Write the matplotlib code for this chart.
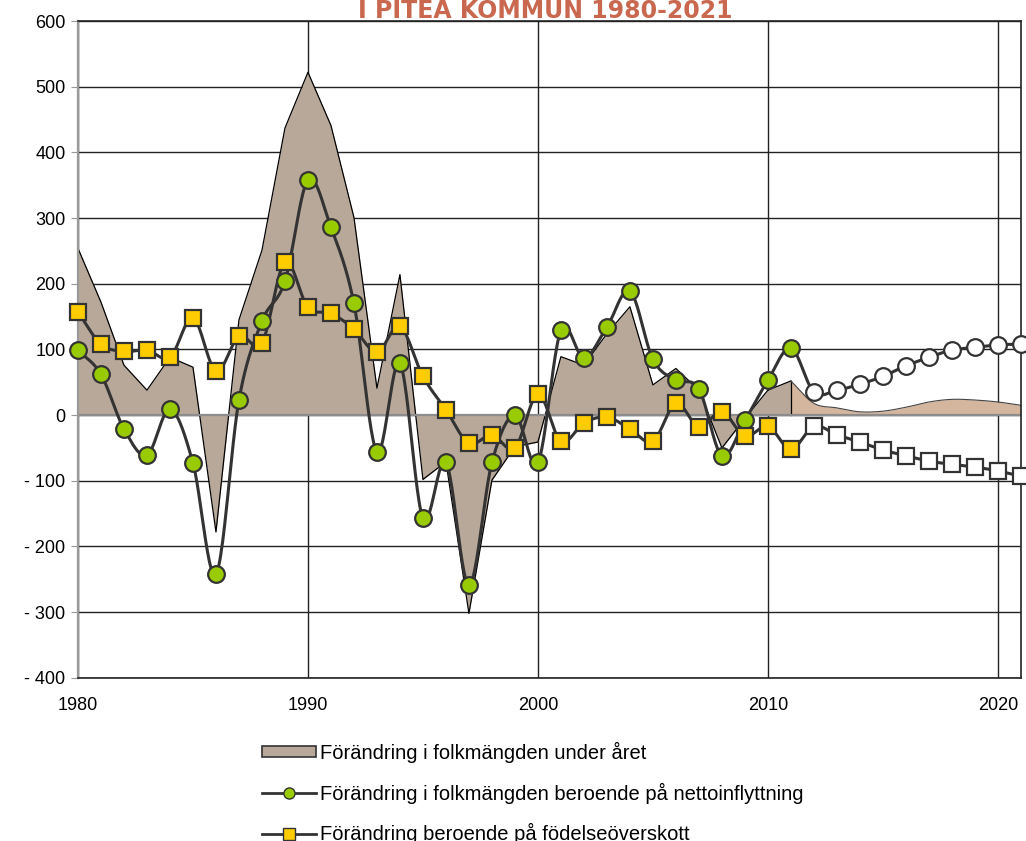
import numpy as np
import matplotlib.pyplot as plt
from matplotlib.patches import Patch
from matplotlib.lines import Line2D

# years: history 1980-2011, forecast 2012-2021
hist_years = list(range(1980, 2012))
proj_years = list(range(2012, 2022))

# total change in population during the year
total_hist = [254, 172, 76, 38, 88, 73, -178, 145, 251, 437, 522, 441, 301, 41, 214, -98,
              -71, -302, -99, -48, -41, 89, 76, 124, 165, 46, 71, 38, -50, -5, 38, 52]
total_proj = [18, 11, 5, 6, 12, 20, 24, 23, 20, 15]

# change from net migration
migration_hist = [99, 62, -21, -61, 9, -73, -242, 23, 143, 204, 358, 286, 170, -56, 79, -157,
                  -72, -259, -72, 0, -72, 129, 87, 134, 189, 85, 53, 40, -62, -8, 53, 102]
migration_proj = [35, 38, 47, 59, 75, 88, 99, 103, 107, 108]

# change from birth surplus
births_hist = [157, 108, 97, 99, 88, 148, 67, 120, 110, 233, 164, 155, 131, 96, 135, 59,
               8, -43, -30, -50, 32, -40, -12, -3, -21, -40, 18, -18, 5, -32, -17, -52]
births_proj = [-17, -30, -41, -53, -62, -70, -75, -79, -85, -93]

yticks = [600, 500, 400, 300, 200, 100, 0, -100, -200, -300, -400]
ytick_labels = ["600", "500", "400", "300", "200", "100", "0", "- 100", "- 200", "- 300", "- 400"]
xticks = [1980, 1990, 2000, 2010, 2020]

labels = ["Förändring i folkmängden under året",
          "Förändring i folkmängden beroende på nettoinflyttning",
          "Förändring beroende på födelseöverskott"]

area_col = "#B8A899"
proj_col = "#D4B59E"
line_col = "#333333"
green = "#99CC00"
yellow = "#FFCC00"


def smooth(x, y, n=24):
    # catmull-rom curve through the points, like excel's smoothed lines
    x = np.asarray(x, float)
    y = np.asarray(y, float)
    px = np.concatenate([[2 * x[0] - x[1]], x, [2 * x[-1] - x[-2]]])
    py = np.concatenate([[2 * y[0] - y[1]], y, [2 * y[-1] - y[-2]]])
    t = np.linspace(0, 1, n, endpoint=False)
    ox, oy = [], []
    for i in range(1, len(px) - 2):
        for p, o in ((px, ox), (py, oy)):
            p0, p1, p2, p3 = p[i - 1], p[i], p[i + 1], p[i + 2]
            o.extend(0.5 * (2 * p1 + (-p0 + p2) * t + (2 * p0 - 5 * p1 + 4 * p2 - p3) * t ** 2
                            + (-p0 + 3 * p1 - 3 * p2 + p3) * t ** 3))
    ox.append(x[-1])
    oy.append(y[-1])
    return np.array(ox), np.array(oy)


plt.rcParams['font.family'] = ['Liberation Sans', 'DejaVu Sans']

fig = plt.figure(figsize=(10.26, 8.41), dpi=100)
ax = fig.add_axes([0.076, 0.194, 0.919, 0.781])

# gridlines behind everything
for yv in yticks:
    ax.axhline(yv, color="#222222", lw=1.0, zorder=0)
for xv in xticks:
    ax.axvline(xv, color="#222222", lw=1.0, zorder=0)

# historical area (straight segments)
ax.fill_between(hist_years, total_hist, 0, color=area_col, lw=0, zorder=1)
ax.plot(hist_years, total_hist, color="black", lw=0.9, zorder=1.2)
ax.plot([2011, 2011], [0, total_hist[-1]], color="black", lw=0.9, zorder=1.2)

# forecast area (smoothed)
sx, sy = smooth([2011] + proj_years, [total_hist[-1]] + total_proj)
ax.fill_between(sx, sy, 0, color=proj_col, lw=0, zorder=1)
ax.plot(sx, sy, color="#444444", lw=0.8, zorder=1.2)

ax.axhline(0, color="#8c8c8c", lw=1.6, zorder=1.5)

# lines
all_years = hist_years + proj_years
mx, my = smooth(all_years, migration_hist + migration_proj)
ax.plot(mx, my, color=line_col, lw=2.2, zorder=3)
bx, by = smooth(all_years, births_hist + births_proj)
ax.plot(bx, by, color=line_col, lw=2.2, zorder=3)

ax.plot(hist_years, migration_hist, "o", ms=12, mfc=green, mec=line_col, mew=1.6, zorder=4, clip_on=False)
ax.plot(proj_years, migration_proj, "o", ms=12, mfc="white", mec=line_col, mew=1.6, zorder=4, clip_on=False)
ax.plot(hist_years, births_hist, "s", ms=11.5, mfc=yellow, mec=line_col, mew=1.6, zorder=4, clip_on=False)
ax.plot(proj_years, births_proj, "s", ms=11.5, mfc="white", mec=line_col, mew=1.6, zorder=4, clip_on=False)

ax.set_xlim(1980, 2021)
ax.set_ylim(-400, 600)
ax.set_yticks(yticks)
ax.set_yticklabels(ytick_labels)
ax.set_xticks(xticks)
ax.set_xticklabels([str(v) for v in xticks])
ax.tick_params(axis="y", length=5, color="#999999", labelsize=13, pad=4)
ax.tick_params(axis="x", length=0, labelsize=13, pad=14)
for s in ["top", "right", "bottom"]:
    ax.spines[s].set_color("#222222")
    ax.spines[s].set_linewidth(1.2)
ax.spines["left"].set_color("#999999")
ax.spines["left"].set_linewidth(1.6)

fig.text(0.531, 0.979, "I PITEÅ KOMMUN 1980-2021", ha="center", va="baseline",
         fontsize=17, fontweight="bold", color="#C9684F",
         family=["Liberation Sans Narrow", "DejaVu Sans"])

handles = [Patch(facecolor=area_col, edgecolor=line_col, lw=1.2),
           Line2D([], [], color=line_col, lw=2, marker="o", ms=8, mfc=green, mec=line_col),
           Line2D([], [], color=line_col, lw=2, marker="s", ms=8, mfc=yellow, mec=line_col)]
fig.legend(handles, labels, loc="upper left", bbox_to_anchor=(0.255, 0.118),
           frameon=False, fontsize=14.5, handlelength=2.7, handleheight=0.5,
           handletextpad=0.2, labelspacing=0.98, borderpad=0, borderaxespad=0)

fig.savefig("out.png", dpi=100)
